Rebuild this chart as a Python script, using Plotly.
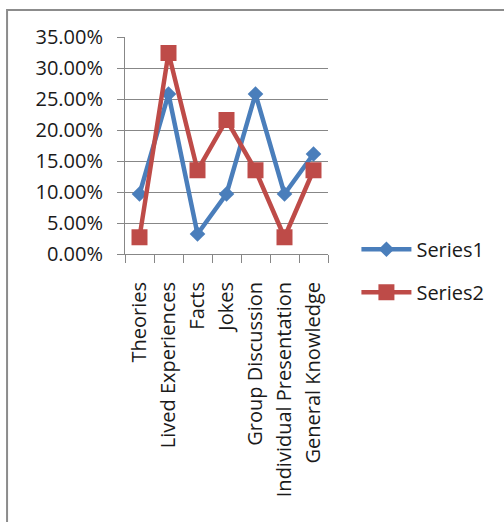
import plotly.graph_objects as go

# Teaching approaches and the share of responses for each
categories = ["Theories", "Lived Experiences", "Facts", "Jokes",
              "Group Discussion", "Individual Presentation", "General Knowledge"]
series1 = [0.0968, 0.2581, 0.0323, 0.0968, 0.2581, 0.0968, 0.1613]
series2 = [0.0270, 0.3243, 0.1351, 0.2162, 0.1351, 0.0270, 0.1351]
y_ticks = [0.0, 0.05, 0.10, 0.15, 0.20, 0.25, 0.30, 0.35]

BLUE = "#4A7EBB"
RED = "#BE4B48"
GRID = "#878787"
FONT = "Open Sans"

fig = go.Figure()
fig.add_trace(go.Scatter(
    x=categories, y=series1, name="Series1", mode="lines+markers",
    line=dict(color=BLUE, width=4.5),
    marker=dict(symbol="diamond", size=12, color=BLUE),
    legendgroup="a",
))
fig.add_trace(go.Scatter(
    x=categories, y=series2, name="Series2", mode="lines+markers",
    line=dict(color=RED, width=4.5),
    marker=dict(symbol="square", size=16, color=RED),
    legendgroup="b",
))

# outer chart frame
fig.add_shape(type="rect", xref="paper", yref="paper",
              x0=-0.581, x1=1.9, y0=-1.3, y1=1.124,
              line=dict(color="#8C8C8C", width=2), layer="below")

fig.update_layout(
    width=504, height=522,
    margin=dict(l=125, r=176, t=37, b=268, pad=0),
    paper_bgcolor="white", plot_bgcolor="white",
    font=dict(family=FONT, size=20, color="#1a1a1a"),
    showlegend=True,
    legend=dict(x=1.14, y=-0.077, xanchor="left", yanchor="middle",
                traceorder="grouped", tracegroupgap=14,
                font=dict(family=FONT, size=20, color="#1a1a1a"),
                itemwidth=50, bgcolor="rgba(0,0,0,0)"),
    xaxis=dict(
        type="category", range=[-0.5, 6.5],
        showgrid=False, showline=True, linecolor=GRID, linewidth=1,
        ticks="outside", ticklen=8, tickcolor=GRID,
        tickson="boundaries", tickangle=-90,
        ticklabelstandoff=19,
        tickfont=dict(family=FONT, size=20, color="#1a1a1a"),
    ),
    yaxis=dict(
        range=[0, 0.3501], tickvals=y_ticks, tickformat=".2%",
        showgrid=True, gridcolor=GRID, gridwidth=1,
        showline=True, linecolor=GRID, linewidth=1,
        ticks="outside", ticklen=7, tickcolor=GRID,
        ticklabelstandoff=10, zeroline=False,
        tickfont=dict(family=FONT, size=20, color="#1a1a1a"),
    ),
)

fig.write_html("out.html")
